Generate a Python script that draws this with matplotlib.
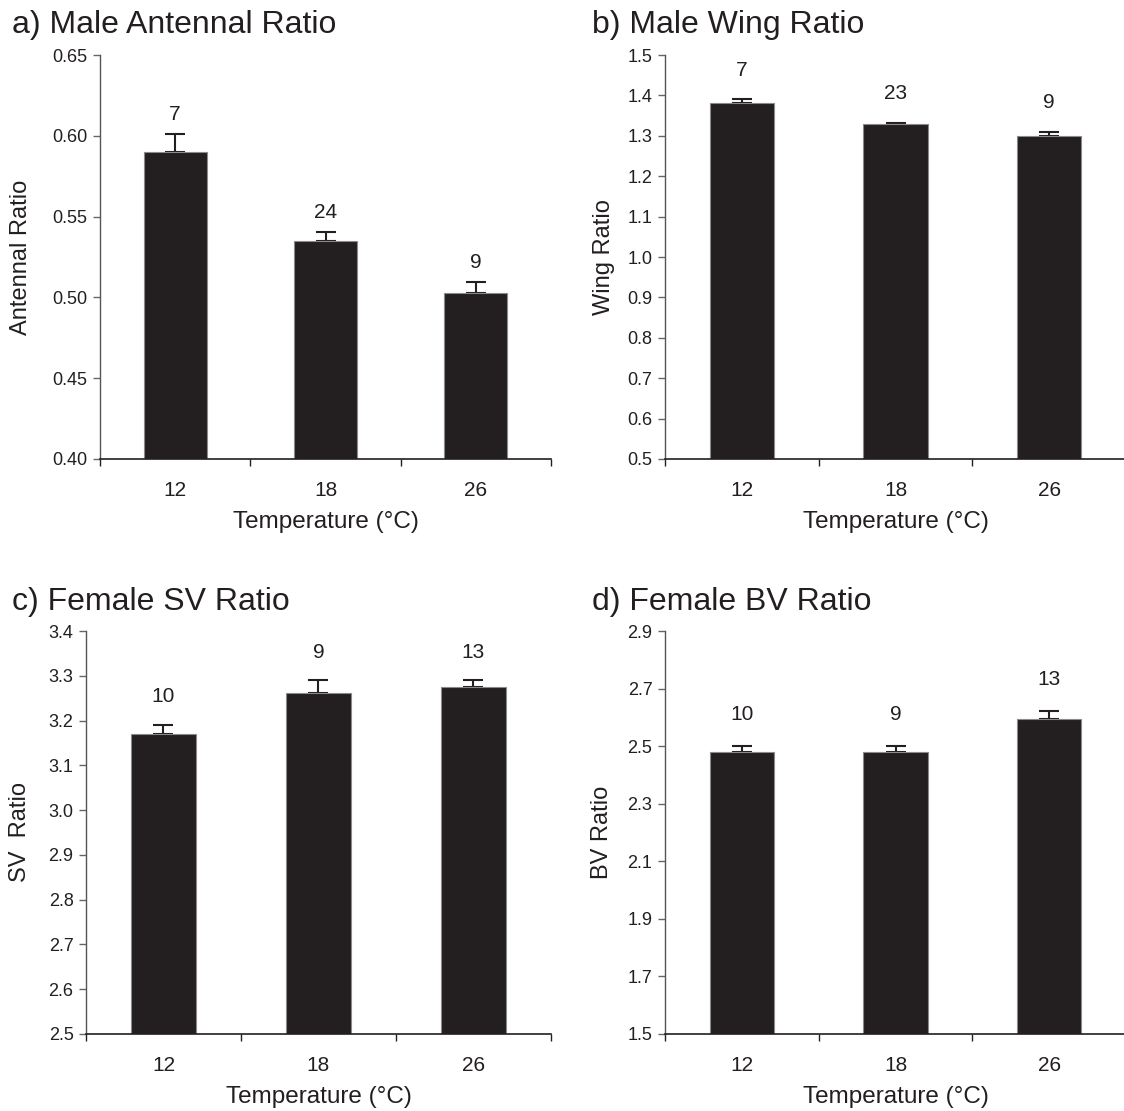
import matplotlib
matplotlib.use("Agg")
from matplotlib import pyplot as plt
from matplotlib.ticker import FormatStrFormatter
import numpy as np

plt.rcParams["font.family"] = ["Liberation Sans", "DejaVu Sans"]

temps = ["12", "18", "26"]

# a) male antennal ratio
antennal_mean = [0.590, 0.535, 0.503]
antennal_err = [0.011, 0.0055, 0.0066]
antennal_n = [7, 24, 9]

# b) male wing ratio
wing_mean = [1.380, 1.328, 1.299]
wing_err = [0.010, 0.004, 0.010]
wing_n = [7, 23, 9]

# c) female SV ratio
sv_mean = [3.171, 3.262, 3.276]
sv_err = [0.020, 0.028, 0.014]
sv_n = [10, 9, 13]

# d) female BV ratio
bv_mean = [2.479, 2.479, 2.594]
bv_err = [0.021, 0.021, 0.028]
bv_n = [10, 9, 13]

ink = "#231f20"

fig = plt.figure(figsize=(11.24, 11.11), dpi=100)
W, H = 1124, 1111


def box(left, top, right, bottom):
    return [left / W, 1 - bottom / H, (right - left) / W, (bottom - top) / H]


panels = [
    # title, ylabel, mean, err, n, ylim, yticks, fmt, axes box, title pos, ylabel x, n offset
    ("a) Male Antennal Ratio", "Antennal Ratio", antennal_mean, antennal_err, antennal_n,
     (0.40, 0.65), np.arange(0.40, 0.651, 0.05), "%.2f", (100, 55, 551, 459), (12, 25), -0.150, 14),
    ("b) Male Wing Ratio", "Wing Ratio", wing_mean, wing_err, wing_n,
     (0.5, 1.5), np.arange(0.5, 1.51, 0.1), "%.1f", (665, 55, 1126, 459), (592, 25), -0.108, 21),
    ("c) Female SV Ratio", "SV  Ratio", sv_mean, sv_err, sv_n,
     (2.5, 3.4), np.arange(2.5, 3.41, 0.1), "%.1f", (86, 631, 551, 1034), (12, 602), -0.118, 20),
    ("d) Female BV Ratio", "BV Ratio", bv_mean, bv_err, bv_n,
     (1.5, 2.9), np.arange(1.5, 2.91, 0.2), "%.1f", (665, 631, 1126, 1034), (592, 602), -0.113, 23),
]

x = np.arange(len(temps))

for title, ylab, mean, err, n, ylim, yticks, fmt, bx, tpos, ylx, noff in panels:
    ax = fig.add_axes(box(*bx))
    ax.bar(x, mean, width=0.42, color=ink, edgecolor="#8a8a8a", linewidth=0.8, zorder=2)
    ax.errorbar(x, mean, yerr=[np.zeros(len(err)), err], fmt="none", ecolor=ink,
                elinewidth=1.5, capsize=7, capthick=1.5, zorder=1)
    for xi, m, e, k in zip(x, mean, err, n):
        ax.annotate(str(k), (xi, m + e), xytext=(0, noff), textcoords="offset points",
                    ha="center", va="center", fontsize=15, color=ink)

    ax.set_xlim(-0.5, 2.5)
    ax.set_ylim(*ylim)
    ax.set_yticks(yticks)
    ax.yaxis.set_major_formatter(FormatStrFormatter(fmt))
    ax.set_xticks(x)
    ax.set_xticklabels(temps)
    ax.set_xticks([-0.5, 0.5, 1.5, 2.5], minor=True)
    ax.tick_params(axis="x", which="major", length=0, pad=15.5, labelsize=15, labelcolor=ink)
    ax.tick_params(axis="x", which="minor", direction="out", length=5, width=1, color=ink)
    ax.tick_params(axis="y", direction="out", length=5, width=1, color="#666666",
                   labelsize=13, labelcolor=ink, pad=4)

    for side in ["top", "right"]:
        ax.spines[side].set_visible(False)
    ax.spines["left"].set_color("#555555")
    ax.spines["bottom"].set_color(ink)
    ax.spines["left"].set_linewidth(1)
    ax.spines["bottom"].set_linewidth(1.2)

    ax.set_xlabel("Temperature (°C)", fontsize=17.5, color=ink, labelpad=8)
    ax.set_ylabel(ylab, fontsize=17, color=ink)
    ax.yaxis.set_label_coords(ylx, 0.5)

    fig.text(tpos[0] / W, 1 - tpos[1] / H, title, fontsize=23, color=ink,
             ha="left", va="center")

fig.savefig("out.png", dpi=100)
